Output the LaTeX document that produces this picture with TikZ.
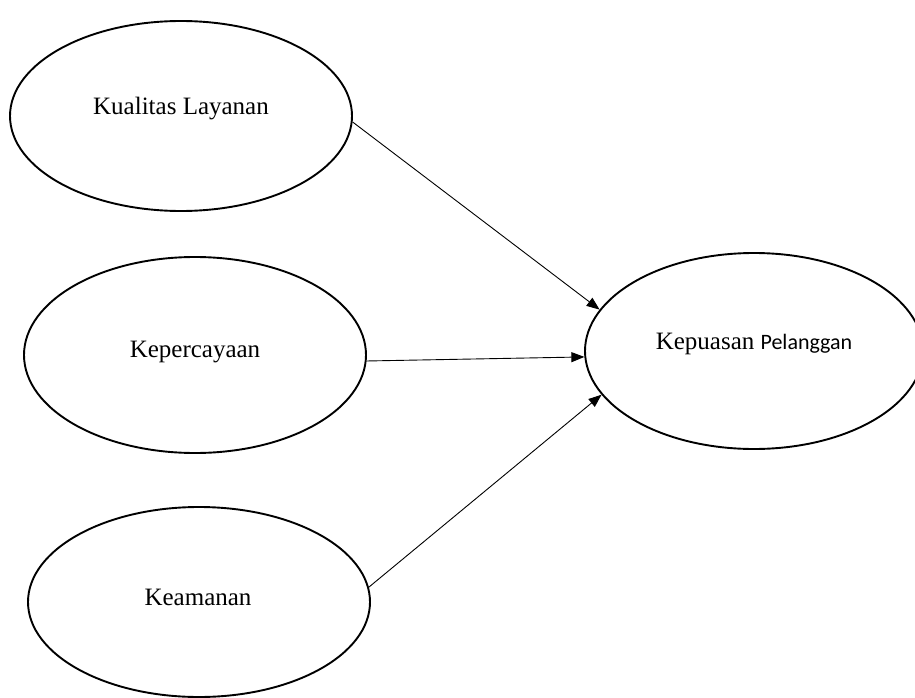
\documentclass[tikz,border=0pt]{standalone}
\usepackage{fontspec}
\setmainfont{Liberation Serif}
\newfontfamily\calibrifont{Carlito}
\usetikzlibrary{shapes.geometric,arrows.meta}
\begin{document}
\begin{tikzpicture}[x=1pt,y=-1pt,
  var/.style={draw,ellipse,line width=1.9pt,inner sep=0pt},
  lbl/.style={anchor=base,inner sep=0pt,font=\fontsize{25}{30}\selectfont},
  arr/.style={line width=0.9pt,-{Triangle[length=13pt,width=10pt]}}]
\clip (0,0) rectangle (915,698);
\fill[white] (0,0) rectangle (915,698);
\node[var,minimum width=342pt,minimum height=190pt] (kl) at (181,116) {};
\node[var,minimum width=342pt,minimum height=196pt] (kp) at (195,355) {};
\node[var,minimum width=342pt,minimum height=190pt] (km) at (199,602) {};
\node[var,minimum width=338pt,minimum height=196pt] (ks) at (754,351) {};
\node[lbl] (tkl) at (181,115) {Kualitas Layanan};
\node[lbl] (tkp) at (195,357) {Kepercayaan};
\node[lbl] (tkm) at (198,605) {Keamanan};
\node[lbl] (tks) at (754,349) {Kepuasan {\calibrifont\fontsize{22}{26}\selectfont Pelanggan}};
\draw[arr] (kl.-2.3) -- (ks.165);
\draw[arr] (kp.-2.7) -- (ks.182);
\draw[arr] (km.5.7) -- (ks.196.5);
\end{tikzpicture}
\end{document}
